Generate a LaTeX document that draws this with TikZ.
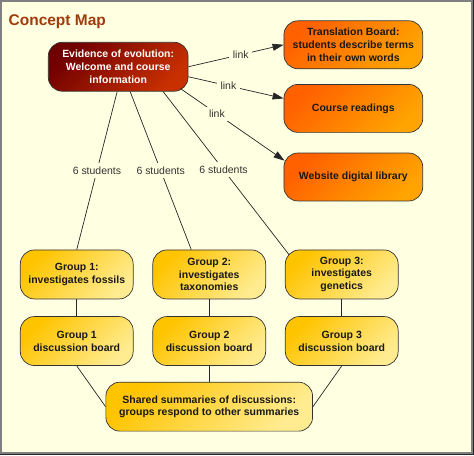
\documentclass[tikz,border=0pt]{standalone}
\usepackage{fontspec}
\setmainfont{Liberation Sans}
\usetikzlibrary{arrows.meta, positioning}

\definecolor{bgyellow}{HTML}{FFFFE1}
\definecolor{framegray}{HTML}{808080}
\definecolor{titlebrown}{HTML}{A03C0C}
\definecolor{redA}{HTML}{700000}
\definecolor{redM}{HTML}{900800}
\definecolor{redB}{HTML}{C83000}
\definecolor{orangeA}{HTML}{FF6000}
\definecolor{orangeM}{HTML}{FF6A00}
\definecolor{orangeB}{HTML}{FFA400}
\definecolor{goldA}{HTML}{FFC400}
\definecolor{goldM}{HTML}{FFCA08}
\definecolor{goldB}{HTML}{FFEC90}

\begin{document}
\begin{tikzpicture}[x=1pt, y=-1pt]
	\tikzset{>={Triangle[length=11pt,width=7pt]}, node distance=19pt,
		box/.style={draw=black!80, line width=0.7pt, rounded corners=14pt, align=center,
			font=\bfseries\fontsize{10.5}{12.7}\selectfont, inner sep=2pt},
		evid/.style={box, text=white, top color=redA, middle color=redM, bottom color=redB, shading angle=45,
			minimum width=140pt, minimum height=49pt},
		task/.style={box, text=black!90, top color=orangeA, middle color=orangeM, bottom color=orangeB,
			shading angle=45, minimum width=139pt, minimum height=48pt},
		group/.style={box, text=black!90, top color=goldA, middle color=goldM, bottom color=goldB,
			shading angle=45, minimum width=113pt, minimum height=49pt},
		lbl/.style={fill=bgyellow, text=black!80, font=\fontsize{10.5}{12}\selectfont, inner sep=3.5pt},
		every path/.style={draw=black!85, line width=0.7pt}}

	\useasboundingbox (0,0) rectangle (474,455);
	\draw[framegray, line width=2pt, fill=bgyellow] (1,1) rectangle (472,453);

	\node[anchor=west, text=titlebrown, font=\bfseries\fontsize{15.5}{18}\selectfont, inner sep=0pt] (title) at (8,21) {Concept Map};

	% main node and resources
	\node[evid] (ev) at (118,66.5) {Evidence of evolution:\\Welcome and course\\information};
	\node[task] (tb) at (353.5,44.5) {Translation Board:\\students describe terms\\in their own words};
	\node[task, below=15pt of tb] (cr) {Course readings};
	\node[task, below=20pt of cr] (wd) {Website digital library};

	% groups
	\node[group] (g1) at (76.5,274.5) {Group 1:\\investigates fossils};
	\node[group, right=of g1] (g2) {Group 2:\\investigates\\taxonomies};
	\node[group, right=of g2] (g3) {Group 3:\\investigates\\genetics};
	\node[group, below=17pt of g1] (db1) {Group 1\\discussion board};
	\node[group, below=17pt of g2] (db2) {Group 2\\discussion board};
	\node[group, below=17pt of g3] (db3) {Group 3\\discussion board};
	\node[group, below=16pt of db2, minimum width=207pt] (sh) {Shared summaries of discussions:\\groups respond to other summaries};

	% links
	\draw[->] (ev.east) -- node[lbl, pos=.55] {link} (tb.west);
	\draw[->] ([yshift=-10pt]ev.east) -- node[lbl, pos=.42] {link} ([yshift=10pt]cr.west);
	\draw[->] ([xshift=-8pt,yshift=3pt]ev.south east) -- node[lbl, pos=.35] {link} ([xshift=1pt,yshift=-8pt]wd.north west);

	\draw ([xshift=-1pt]ev.south) -- node[lbl, pos=.5] {6 students} (g1.north);
	\draw ([xshift=12pt]ev.south) -- node[lbl, pos=.5] {6 students} ([xshift=-18pt]g2.north);
	\draw ([xshift=45pt]ev.south) -- node[lbl, pos=.48] {6 students} ([xshift=4pt,yshift=-5pt]g3.north west);

	\draw (g1) -- (db1);
	\draw (g2) -- (db2);
	\draw (g3) -- (db3);
	\draw (db1.south) -- (sh.west);
	\draw (db2) -- (sh);
	\draw (db3.south) -- (sh.east);
\end{tikzpicture}
\end{document}
